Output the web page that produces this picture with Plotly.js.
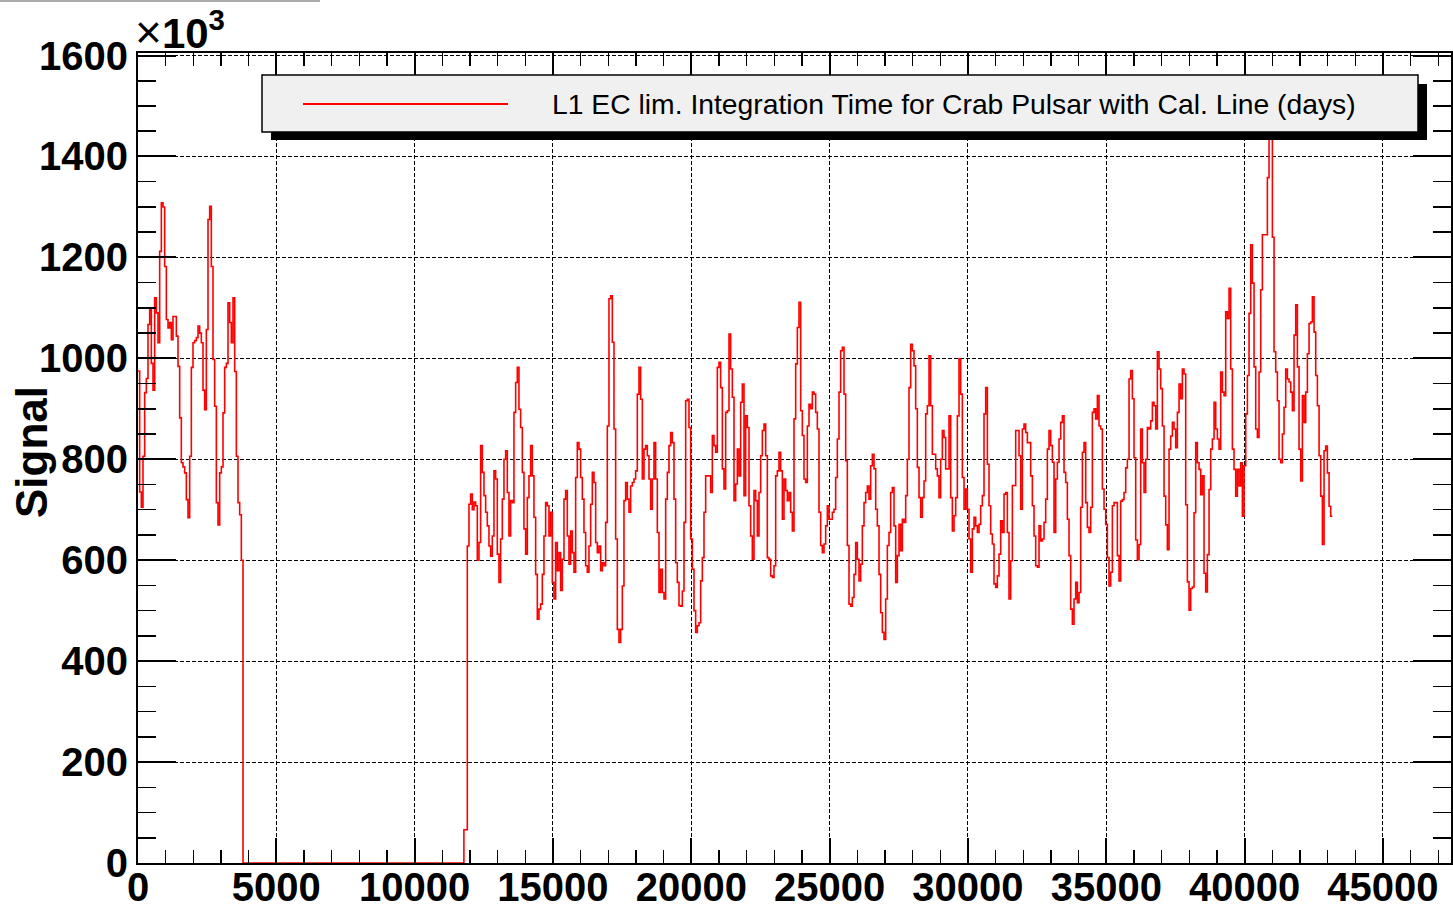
<!DOCTYPE html>
<html>
<head>
<meta charset="utf-8">
<script src="https://cdn.plot.ly/plotly-3.0.1.min.js"></script>
<style>html,body{margin:0;padding:0;background:#fff;}#chart{width:1453px;height:911px;}</style>
</head>
<body>
<div id="chart"></div>
<script>
// ---- data (signal in units of 10^3) ----
const binWidth = 60.25;
const leftStart = 0;
const leftValues = [975,735,705,806,932,960,1067,1100,990,937,1120,1090,1031,1212,1308,1300,1182,1077,1060,1071,1037,1083,1083,1044,984,882,793,785,773,720,684,806,982,1031,1035,1041,1064,1050,1031,937,898,1057,1275,1301,1182,998,905,714,670,773,785,892,982,990,1110,1071,1031,1120,974,806,714,690,600];
const gapStart = 3796;
const gapValue = 0;
const riseStart = 11780;
const riseValue = 66;
const mainStart = 11903;
const mainSeg1 = [628,711,731,700,715,708,600,635,827,774,728,695,668,628,608,648,777,761,612,556,642,721,800,817,734,648,718,714,893,952,982,899,863,774,662,612,724,767,827,767,685,572,483,503,513,572,648,714,708,648,695,556,523,635,579,615,540,602,721,738,648,592,658,615,576,764,833,820,764,721,655,589,576,628,711,774,754,635,615,628,579,595,589,675,866,1118,1124,1032,860,642,463,437,463,549,718,754,721,695,747,754,761,777,929,982,919,761,820,827,807,761,701,761,833,761,655,536,582,536,523,721,774,827,853,833,721,595,556,510];
const mainSeg2 = [509,539,675,916,919,863,642,582,500,457,470,476,559,605,695,767,767,767,734,847,827,814,982,992,942,781,741,893,896,1048,979,923,718,751,820,767,913,949,728,886,863,708,648,602,738,718,648,734,807,857,870,807,605,602,569,566,589,767,777,814,777,681,761,738,718,734,695,658,880,989,1061,1111,896,847,761,754,866,909,900,933,929,893,860,695,629,615,632,668,708,681,681,695,701,764,840,933,1015,1022,929,797,629,513,509,526,572,635,602,559,592,668,714,734,747,721,787,810,781,701,668,572,496,457,443,523,629,655,734,744,668,556,609,671];
const mainSeg3 = [619,681,675,728,800,942,1028,1015,985,900,784,724,685,724,757,890,906,1005,906,810,810,781,767,724,800,857,843,781,781,886,724,658,688,724,886,999,929,764,701,741,701,642,576,662,685,668,655,671,708,728,890,942,790,708,652,632,553,546,569,612,678,655,731,734,655,523,599,748,748,857,857,807,701,860,870,853,833,833,767,708,648,589,586,668,638,642,675,721,820,857,827,794,655,761,794,840,873,886,774,754,681,609,503,473,523,556,516,536,705,814,833,714,665,655,705,893,900,880,926,866,860,741,701,671,605,549,576,708,714,714,609,559];
const mainSeg4 = [717,720,734,783,800,959,976,920,803,640,601,631,860,793,734,800,863,860,876,913,906,860,1013,979,940,866,727,670,621,820,846,873,860,823,893,949,920,979,969,710,557,501,544,547,694,833,793,780,730,767,574,537,611,740,820,840,913,860,840,820,973,933,926,1092,1079,1139,979,820,780,727,780,747,793,687,787,890,966,1089,1225,1149,983,860,843,973,1136,1245,1245,1245,1358,1440,1440,1240,1013,973,916,800,793,850,903,979,959,953,933,896,1046,1106,983,820,757,926,873,933,1009,1069,1072,1122,1052,966,906,807,727,631,817,826,773,707,687];
const xTickVals = [0,5000,10000,15000,20000,25000,30000,35000,40000,45000];
const yTickVals = [0,200,400,600,800,1000,1200,1400,1600];
const legendLabel = 'L1 EC lim. Integration Time for Crab Pulsar with Cal. Line (days)';
const yTitle = 'Signal';

// ---- build step histogram ----
const xs = [], ys = [];
leftValues.forEach((v, i) => { xs.push(leftStart + i * binWidth); ys.push(v); });
xs.push(gapStart); ys.push(gapValue);
xs.push(riseStart); ys.push(riseValue);
const mainValues = [].concat(mainSeg1, mainSeg2, mainSeg3, mainSeg4);
mainValues.forEach((v, i) => { xs.push(mainStart + i * binWidth); ys.push(v); });
xs.push(mainStart + mainValues.length * binWidth); ys.push(mainValues[mainValues.length - 1]);

// ---- layout helpers (pixel -> paper) ----
const L = 138, T = 53, W = 1313, H = 810;
const px = p => (p - L) / W;
const py = p => (T + H - p) / H;
const FONT = 'Liberation Sans, Arial, Helvetica, sans-serif';

const trace = {
  x: xs, y: ys, type: 'scatter', mode: 'lines',
  line: {shape: 'hv', color: '#ff0000', width: 1.6},
  showlegend: false, hoverinfo: 'skip'
};

const axisCommon = {
  showline: true, linecolor: '#000', linewidth: 2, mirror: 'ticks',
  ticks: 'inside', tickcolor: '#000', tickwidth: 2,
  showgrid: true, gridcolor: '#000', gridwidth: 1, griddash: '4px,2px',
  zeroline: false,
  tickfont: {family: FONT, size: 40, color: '#000', weight: 'bold'}
};

const layout = {
  width: 1453, height: 911,
  margin: {l: L, r: 1453 - L - W, t: T, b: 911 - T - H, pad: 0},
  paper_bgcolor: '#fff', plot_bgcolor: '#fff',
  showlegend: false,
  xaxis: Object.assign({}, axisCommon, {
    range: [0, 47460], tickvals: xTickVals, ticktext: xTickVals.map(String), ticklen: 25,
    minor: {dtick: 1000, tick0: 0, ticks: 'inside', ticklen: 13, tickwidth: 1.5, tickcolor: '#000', showgrid: false},
    ticklabelstandoff: -12
  }),
  yaxis: Object.assign({}, axisCommon, {
    range: [0, 1605], tickvals: yTickVals, ticktext: yTickVals.map(String), ticklen: 38,
    minor: {dtick: 50, tick0: 0, ticks: 'inside', ticklen: 18, tickwidth: 1.5, tickcolor: '#000', showgrid: false},
    ticklabelstandoff: 0
  }),
  shapes: [
    {type: 'line', xref: 'paper', yref: 'paper', x0: px(0), x1: px(320), y0: py(1), y1: py(1), line: {color: '#aaaaaa', width: 2}},
    {type: 'rect', xref: 'paper', yref: 'paper', x0: px(271), x1: px(1427), y0: py(140), y1: py(84), fillcolor: '#000', line: {width: 0}},
    {type: 'rect', xref: 'paper', yref: 'paper', x0: px(262), x1: px(1418), y0: py(132), y1: py(75), fillcolor: '#f0f0f0', line: {color: '#000', width: 1.5}},
    {type: 'line', xref: 'paper', yref: 'paper', x0: px(303), x1: px(508), y0: py(104), y1: py(104), line: {color: '#ff0000', width: 2}}
  ],
  annotations: [
    {xref: 'paper', yref: 'paper', x: px(550), y: py(104), xanchor: 'left', yanchor: 'middle', showarrow: false,
     text: legendLabel, font: {family: FONT, size: 28.3, color: '#000'}},
    {xref: 'paper', yref: 'paper', x: px(31), y: py(452), xanchor: 'center', yanchor: 'middle', showarrow: false,
     textangle: -90, text: yTitle, font: {family: FONT, size: 44, color: '#000', weight: 'bold'}},
    {xref: 'paper', yref: 'paper', x: px(133), y: py(30), xanchor: 'left', yanchor: 'middle', showarrow: false,
     text: '<span style="font-size:46px">×</span><b>10<sup>3</sup></b>', font: {family: FONT, size: 42, color: '#000'}}
  ]
};

Plotly.newPlot('chart', [trace], layout, {staticPlot: true, displayModeBar: false});
</script>
</body>
</html>
